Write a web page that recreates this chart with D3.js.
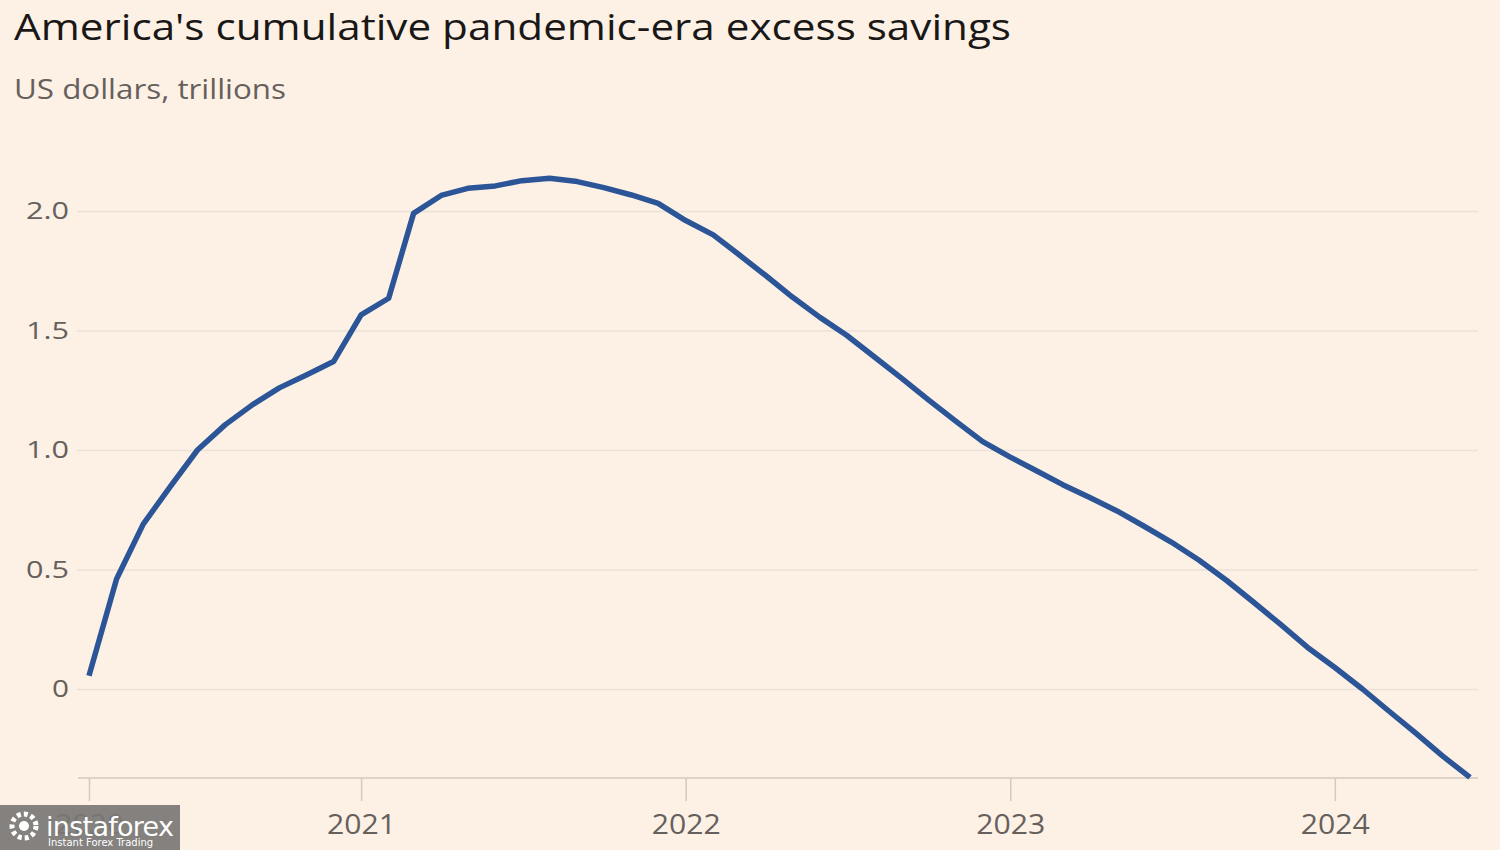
<!DOCTYPE html>
<html>
<head>
<meta charset="utf-8">
<script src="https://cdn.jsdelivr.net/npm/d3@7"></script>
<style>
  html, body { margin: 0; padding: 0; background: #fdf1e6; }
  svg { display: block; }
</style>
</head>
<body>
<svg id="chart" width="1500" height="850"></svg>
<script>
const title = "America's cumulative pandemic-era excess savings";
const subtitle = "US dollars, trillions";

const startMonth = "2020-03";
const savings = [
  0.055, 0.46, 0.69, 0.85, 1.0, 1.105, 1.19, 1.26, 1.315, 1.37,
  1.565, 1.635, 1.99, 2.065, 2.095, 2.105, 2.127, 2.137, 2.123, 2.098, 2.067, 2.032,
  1.96, 1.90, 1.82, 1.73, 1.64, 1.555, 1.48, 1.39, 1.30, 1.21, 1.12, 1.035,
  0.97, 0.91, 0.855, 0.80, 0.745, 0.68, 0.615, 0.54, 0.455, 0.365, 0.27, 0.175,
  0.09, 0.00, -0.09, -0.185, -0.28, -0.37
];
const yTicks = [0, 0.5, 1.0, 1.5, 2.0];
const xTickDates = ["2020-03", "2021-01", "2022-01", "2023-01", "2024-01"];
const xTickLabels = ["2020", "2021", "2022", "2023", "2024"];

const parse = d3.timeParse("%Y-%m");
const start = parse(startMonth);
const data = savings.map((v, i) => ({ date: d3.timeMonth.offset(start, i), value: v }));

const svg = d3.select("#chart");
const W = 1500, H = 850;
svg.append("rect").attr("width", W).attr("height", H).attr("fill", "#fdf1e6");

const x = d3.scaleTime()
  .domain([data[0].date, data[data.length - 1].date])
  .range([89, 1470]);
const y = d3.scaleLinear().domain([0, 2]).range([689, 211]);
const axisY = 778;

const font = "'Open Sans', sans-serif";

// title
svg.append("text").attr("x", 14).attr("y", 40)
  .attr("font-family", font).attr("font-size", 37).attr("fill", "#1a1817")
  .attr("textLength", 997).attr("lengthAdjust", "spacingAndGlyphs")
  .text(title);
svg.append("text").attr("x", 14).attr("y", 99)
  .attr("font-family", font).attr("font-size", 28).attr("fill", "#66605c")
  .attr("textLength", 272).attr("lengthAdjust", "spacingAndGlyphs")
  .text(subtitle);

// gridlines + y labels
const yAxis = d3.axisLeft(y).tickValues(yTicks)
  .tickSize(-(1478 - 77))
  .tickPadding(8)
  .tickFormat(d => d === 0 ? "0" : d3.format(".1f")(d));
const gy = svg.append("g").attr("transform", "translate(77,0)").call(yAxis);
gy.select(".domain").remove();
gy.selectAll(".tick line").attr("stroke", "#ebe1d8").attr("stroke-width", 1.5);
gy.selectAll(".tick text")
  .attr("font-family", font).attr("font-size", 24).attr("fill", "#66605c")
  .attr("textLength", d => d === 0 ? 17 : 43).attr("lengthAdjust", "spacingAndGlyphs");

// x axis
const xAxis = d3.axisBottom(x)
  .tickValues(xTickDates.map(parse))
  .tickSize(23)
  .tickPadding(14)
  .tickFormat((d, i) => xTickLabels[i]);
const gx = svg.append("g").attr("transform", `translate(0,${axisY})`).call(xAxis);
gx.select(".domain").remove();
gx.append("line").attr("x1", 78).attr("x2", 1478).attr("y1", 0).attr("y2", 0)
  .attr("stroke", "#d4c9bf").attr("stroke-width", 1.5);
gx.selectAll(".tick line").attr("stroke", "#d4c9bf").attr("stroke-width", 1.5);
gx.selectAll(".tick text")
  .attr("font-family", font).attr("font-size", 27).attr("fill", "#66605c")
  .attr("textLength", 69).attr("lengthAdjust", "spacingAndGlyphs");

// line
const line = d3.line().x(d => x(d.date)).y(d => y(d.value));
svg.append("path").datum(data)
  .attr("fill", "none").attr("stroke", "#2b5597").attr("stroke-width", 5.5)
  .attr("stroke-linejoin", "round")
  .attr("d", line);

// watermark
const wm = svg.append("g");
wm.append("rect").attr("x", 0).attr("y", 805).attr("width", 180).attr("height", 45)
  .attr("fill", "#7a7775").attr("opacity", 0.92);
wm.append("circle").attr("cx", 24).attr("cy", 826).attr("r", 12).attr("fill", "none")
  .attr("stroke", "#ffffff").attr("stroke-width", 5).attr("stroke-dasharray", "4 3");
wm.append("circle").attr("cx", 24).attr("cy", 826).attr("r", 5).attr("fill", "#ffffff");
wm.append("text").attr("x", 46).attr("y", 836)
  .attr("font-family", "'DejaVu Sans', sans-serif").attr("font-size", 27).attr("fill", "#ffffff")
  .attr("textLength", 128)
  .text("instaforex");
wm.append("text").attr("x", 48).attr("y", 846)
  .attr("font-family", "'DejaVu Sans', sans-serif").attr("font-size", 10).attr("fill", "#ffffff")
  .text("Instant Forex Trading");
</script>
</body>
</html>
